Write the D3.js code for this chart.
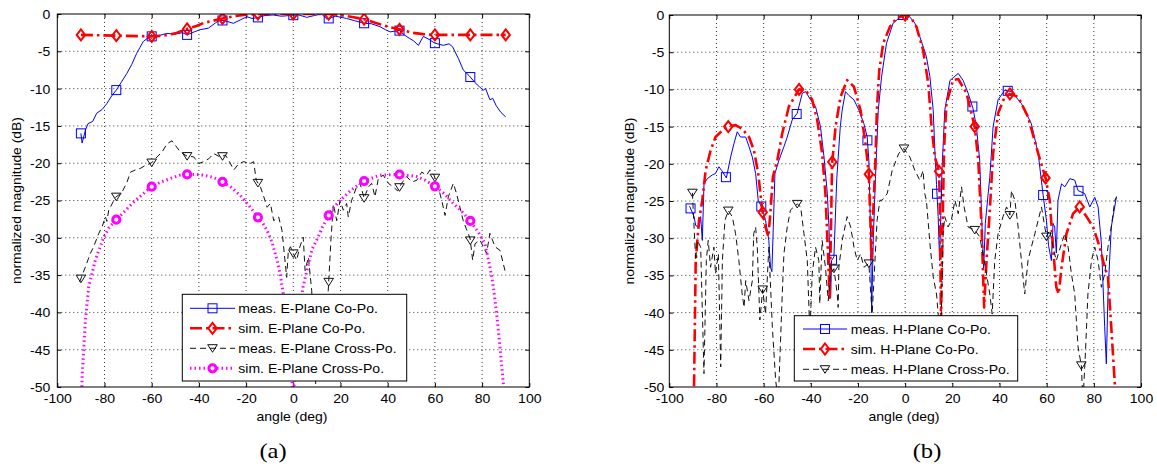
<!DOCTYPE html>
<html>
<head>
<meta charset="utf-8">
<script src="https://cdn.jsdelivr.net/npm/d3@7"></script>
<style>
  body { margin: 0; background: #fff; }
  text { font-family: "Liberation Sans", Arial, sans-serif; fill: #000; }
</style>
</head>
<body>
<div id="chart"></div>
<script>
// ---- data: [angle (deg), normalized magnitude (dB)] ----

// (a) E-plane
let measECo = [[-90,-16],[-89.5,-17.3],[-88,-15.5],[-87,-14.7],[-85,-14.4],[-83.3,-13.3],[-81,-12.8],[-79,-12],[-77,-11],
  [-75,-10.2],[-73,-9.2],[-70.6,-8],[-68.5,-6.8],[-66.4,-5.3],[-65,-4.5],[-63.6,-3.7],[-62,-3.3],[-60,-3.0],[-57,-2.9],
  [-53.6,-2.6],[-50,-2.7],[-47,-2.5],[-45,-2.8],[-42,-2.4],[-39.5,-2.1],[-36,-1.9],[-33,-1.2],[-31,-0.8],[-28,-1.0],
  [-25.4,-1.25],[-22.5,-0.8],[-19.7,-0.36],[-17.5,-0.6],[-15.5,-0.5],[-12,-0.2],[-8.5,-0.13],[-5,-0.3],[-1.4,-0.2],
  [2,-0.1],[5.7,-0.45],[9,-0.2],[12,0],[14.2,-0.67],[18,-0.3],[22.6,-0.6],[26,-0.9],[30.1,-1.25],[33,-1.3],[36.7,-1.7],
  [39,-2.1],[41,-2.4],[44.9,-2.2],[47,-2.8],[49.4,-3.3],[51,-3.6],[53,-4.2],[55.1,-3.0],[57.5,-3.4],[59.9,-3.9],
  [63.6,-4.2],[66,-4.0],[67.5,-4.4],[70,-6],[72,-7.5],[74.6,-8.3],[77,-9.2],[79,-9.8],[80.5,-10.2],[81.5,-10],
  [83.3,-11.5],[84.5,-11.3],[86,-12.3],[88,-13.2],[90,-13.8]];

let simECo = [[-90,-2.8],[-75,-2.9],[-60,-3.0],[-55,-2.9],[-50,-2.6],[-45,-2.0],[-41,-1.6],[-38,-1.2],[-34,-0.9],
  [-30,-0.6],[-25,-0.3],[-20,-0.1],[-15,0],[-10,0],[-5,0],[0,0],[5,0],[10,0],[15,0],[20,-0.15],[25,-0.4],[30,-0.7],
  [35,-1.2],[40,-1.7],[45,-2.05],[50,-2.5],[55,-2.7],[60,-2.8],[75,-2.8],[90,-2.8]];

let measECross = [[-90.5,-35.9],[-88.1,-33.9],[-86,-32.1],[-84.6,-31.2],[-82.4,-29.4],[-81,-28.5],[-79.6,-27.2],
  [-79,-27.8],[-78.2,-26.3],[-75.4,-24.6],[-72.6,-23.9],[-70.4,-22.5],[-69,-21.2],[-66.9,-20.9],[-64.8,-20.7],
  [-62.7,-20.3],[-60.1,-19.96],[-57.7,-19.15],[-55.6,-18.5],[-53.5,-17.4],[-51.4,-17],[-50,-17.6],[-47.8,-18.5],
  [-45,-19.06],[-42.2,-19.15],[-40.1,-20.05],[-38,-19.8],[-35.8,-19.4],[-33.7,-18.7],[-30.9,-19.2],[-28.8,-18.9],
  [-27.4,-19.6],[-25.2,-20.9],[-23.1,-20.05],[-21,-19.8],[-18.2,-20.05],[-16.8,-19.8],[-15.7,-22.3],[-13.9,-23.2],
  [-12.5,-24.5],[-11.1,-25.9],[-9.7,-25.4],[-8.3,-27.7],[-6.2,-27.2],[-4.8,-29],[-4.1,-31.2],[-2.8,-35.3],
  [-2.1,-31.7],[-1.2,-31.2],[0,-32.1],[1.4,-33],[2.8,-31.2],[4.2,-29.9],[5,-34.4],[6.4,-32.6],[7.8,-37.1],[8.5,-42],
  [9.5,-49.6],[10.6,-49.1],[11.3,-45],[12.7,-42],[14.8,-37.1],[16,-30],[17,-25.5],[18.4,-27.7],[19.8,-25],
  [21.2,-26.3],[22.6,-25.4],[23.3,-27.2],[24.7,-25],[26.8,-23.2],[28.3,-22.7],[30,-24.7],[31.8,-23.2],[33.2,-22.7],
  [34.6,-24.5],[36,-22.1],[38.1,-21.6],[40.3,-22.7],[42.4,-23.2],[44.2,-23.7],[45.9,-22.7],[48,-21.8],[50.2,-22.5],
  [52.3,-22.3],[54.4,-21.2],[56.5,-21.6],[57.9,-20.9],[59.6,-21.6],[61.4,-23.2],[62.9,-25],[64.3,-27],[65.7,-24.5],
  [67.8,-22.7],[69.2,-24.1],[70.6,-25.9],[72,-27.7],[74.9,-30.1],[76,-33],[77,-30.8],[79.1,-30.3],[81.9,-32.1],
  [83.3,-29.4],[85.5,-31.2],[87.6,-31.7],[89.7,-34.4]];

let simECross = [[-90,-56],[-89.5,-48.7],[-88.1,-41.1],[-86.7,-36.6],[-83.9,-33],[-80.3,-29.9],[-78,-28.6],
  [-75.4,-27.7],[-71,-26.3],[-67.6,-25.2],[-64,-24.2],[-60.3,-23.2],[-56,-22.5],[-52.1,-22.06],[-48,-21.6],
  [-45,-21.5],[-41.5,-21.5],[-38,-21.6],[-34,-21.9],[-30.5,-22.4],[-26.5,-23.2],[-22.5,-24.3],[-19,-25.6],
  [-15.4,-27.1],[-13,-28],[-11.1,-29],[-9,-30.6],[-6.9,-33],[-5.6,-34.8],[-4.1,-37.8],[-2.8,-41],[-1.4,-45.1],
  [0,-52],[1.4,-42.9],[2.8,-39.5],[4.2,-36.5],[6.4,-33.5],[8,-31.5],[9.9,-30.3],[12.3,-28.6],[14.8,-27.1],[17,-26],
  [19.8,-25],[24.5,-23.6],[30,-22.4],[36.7,-21.6],[44.5,-21.5],[48,-21.6],[52.3,-21.8],[56,-22.3],[60,-23.1],
  [64,-24.1],[67.8,-25.4],[71.5,-26.5],[74.9,-27.7],[78.5,-29.3],[81.2,-30.8],[83.3,-33.9],[84.5,-36],[85.5,-38.4],
  [86.6,-41.5],[87.6,-44.7],[89,-49.6],[90,-56]];

// (b) H-plane
let measHCo = [[-91.4,-25.7],[-89.5,-27.1],[-88.8,-28.3],[-87.4,-28.5],[-86.7,-27.1],[-86,-30.3],[-85.3,-22.7],
  [-83.9,-22],[-81.8,-21.5],[-80.4,-21.3],[-79,-20.4],[-77.8,-20.9],[-75.8,-21.9],[-74,-19.1],[-72.6,-17.3],
  [-71.2,-15.7],[-69.8,-16.4],[-67.6,-16.4],[-66.2,-17.7],[-64.8,-19.1],[-63.4,-21.3],[-62.3,-24.9],[-60.6,-26],
  [-59.2,-27.6],[-57.8,-30.3],[-57.1,-33.9],[-56.5,-34.5],[-55.2,-21.3],[-53.5,-19.5],[-51.4,-17.7],[-50,-16.4],
  [-47.9,-14.1],[-45.75,-13.2],[-43.6,-10.5],[-42.2,-10.3],[-40.1,-11.4],[-38,-12.3],[-35.9,-15],[-34.4,-19.1],
  [-33,-24],[-32.3,-28.5],[-31.6,-38],[-31.2,-33],[-30.2,-32.5],[-29,-22],[-27.5,-15],[-26.7,-12.8],[-25.3,-10.3],
  [-23.9,-10.8],[-21.7,-11.4],[-19.6,-12.8],[-17.5,-14.6],[-16.1,-16.4],[-15.4,-19.5],[-14.7,-28.5],[-14.2,-40],
  [-13.5,-30],[-12.6,-22],[-11.4,-12.8],[-10,-8.3],[-7.9,-3.8],[-5.1,-1.1],[-1.1,0],[1.3,0],[4.1,-1.1],[6.2,-2.9],
  [9,-5.6],[10.5,-8.3],[11.9,-12.8],[12.6,-18.2],[13.3,-22.8],[14,-27.1],[14.6,-33],[15.1,-27],[15.6,-20.9],
  [16.8,-12.8],[19,-8.8],[22.5,-7.85],[24.6,-8.8],[26.7,-10.5],[28.8,-12.6],[30.2,-15],[31.6,-19.5],[32.6,-28.5],
  [33.3,-34],[34,-28],[35.2,-24],[35.9,-21.8],[37.3,-15],[39.4,-11.4],[42.2,-10.1],[45.1,-10.3],[49.3,-11.9],
  [53.5,-14.6],[56.4,-18.6],[58.5,-24.2],[59.9,-27.6],[60.8,-31],[62,-33],[62.7,-28],[63.4,-28.5],[64.1,-32],
  [64.8,-24.9],[66.3,-22.7],[67.7,-23.1],[69.8,-22],[71.9,-22.2],[73.3,-23.6],[76.1,-24],[78.3,-25.8],[80.4,-24.5],
  [81.8,-25.8],[83.2,-30.7],[84.6,-41.9],[85.3,-46.9],[86,-37.5],[87.4,-28.5],[89.6,-24.4]];

let simHCo = [[-90,-62],[-89.5,-49.6],[-88.8,-33],[-87.4,-27.6],[-86,-24.9],[-84.6,-20.9],[-82.5,-18.2],
  [-80.4,-16.4],[-77.5,-15.5],[-75,-15],[-71.9,-14.8],[-69.1,-15.3],[-66.2,-16.4],[-64.1,-18.2],[-62.3,-21.3],
  [-60.6,-26.2],[-59.2,-28.5],[-58,-29.8],[-57.05,-26.2],[-56.1,-21.8],[-54.2,-19.5],[-52.1,-15.9],[-49.3,-12.3],
  [-45,-10],[-42.2,-10.1],[-39.4,-11.4],[-37.3,-14.1],[-35.2,-18.6],[-33.8,-24],[-32.6,-33],[-32,-38],[-31.4,-28],
  [-31,-20.1],[-29.5,-15],[-27.4,-11],[-24.6,-8.75],[-21.7,-9.65],[-18.9,-12.8],[-16.8,-17.3],[-15.4,-21.4],
  [-14.7,-28],[-14.3,-33],[-13.6,-27],[-12.6,-19.5],[-12,-12.8],[-11,-7.5],[-9.3,-3.8],[-6.5,-1.6],[-3.7,-0.45],
  [0,0],[2.7,-0.45],[4.8,-1.6],[7.6,-4.7],[9.8,-9.2],[11.2,-15],[12.6,-19.1],[14.4,-21],[14.7,-26],[15.2,-41],
  [15.8,-30],[16.5,-18],[17.5,-11.9],[20.3,-8.75],[22.5,-8.6],[26,-10.5],[29.5,-15],[31,-19.5],[32.4,-28.5],
  [33.5,-39.3],[34.5,-33],[35.9,-26.2],[37.3,-18.6],[39.4,-13.2],[42.2,-11],[44.4,-10.6],[47.9,-11],[52.1,-13.7],
  [56.4,-18.6],[59.6,-22],[61.3,-24.9],[62.7,-31.2],[64.1,-36.6],[65.1,-37.5],[66.3,-33.9],[68.4,-29.4],
  [71.2,-26.7],[74,-25.8],[76.9,-27.1],[79.7,-28.5],[82.5,-31.2],[84.6,-33.9],[86,-35.2],[87.4,-42],[88.9,-49.6],
  [90,-58]];

let measHCross = [[-90.2,-23.9],[-89.5,-28.5],[-88.8,-33],[-88.1,-30.3],[-86.7,-31.2],[-85.3,-48.2],[-84.3,-33],
  [-83.5,-30.3],[-82.5,-33.9],[-81.1,-31.2],[-80.4,-34.8],[-79.2,-32.1],[-78.2,-47.3],[-77.5,-33],[-76.4,-27.6],
  [-75,-26.3],[-73.3,-27.1],[-71.9,-29.4],[-70.5,-33],[-69.1,-37.5],[-68.3,-39.3],[-67.6,-35.7],[-66.2,-38.4],
  [-64.8,-35.7],[-64.2,-29.4],[-63.4,-28.5],[-62.7,-31.2],[-61.6,-41],[-60.4,-36.9],[-59.2,-40.2],[-57.8,-31.2],
  [-56.3,-42],[-54.9,-49.1],[-53.8,-52],[-52.1,-37.5],[-51.4,-32.1],[-50,-28.5],[-48.6,-26.2],[-45.75,-25.4],
  [-44.3,-25.8],[-42.9,-29.4],[-41.5,-33],[-40.4,-42.8],[-39.4,-34.8],[-38,-31.2],[-36.6,-33],[-36.2,-38.8],
  [-35.2,-30.3],[-33.8,-33.9],[-32.6,-38.4],[-31.6,-34.8],[-30.2,-34.1],[-28.8,-37.5],[-28.4,-39.3],[-28.1,-33.9],
  [-26.7,-30.3],[-24.6,-27.1],[-23.1,-28.5],[-21.7,-31.2],[-20.3,-33],[-18.9,-32.1],[-17.5,-33.9],[-15.4,-33.4],
  [-14,-40.2],[-11.9,-27.6],[-10.7,-24.9],[-9.8,-24.9],[-7.6,-24],[-5.5,-20.9],[-2.7,-18.6],[-0.5,-17.95],[2,-19.1],
  [4.1,-20.9],[6.2,-22.2],[7.6,-20.9],[8.3,-24],[9,-24.9],[10.5,-30.7],[11.9,-35.2],[13.3,-37.5],[14,-40.2],
  [15,-45],[16.1,-29.4],[16.8,-27.1],[18.2,-28.5],[19.6,-27.6],[21.1,-24.9],[22.5,-26.7],[23.9,-23.1],[25,-25.8],
  [26.7,-28.5],[29.5,-28.9],[31.6,-29.8],[33,-32.1],[34.5,-34.8],[35.9,-37.5],[36.9,-40.2],[38,-33],[39.4,-29.4],
  [41.5,-27.1],[43,-25.8],[44.4,-26.9],[45.1,-23.6],[46.5,-24.9],[47.9,-28.5],[49.3,-33],[50.7,-37.5],[52.1,-33],
  [53.5,-31.2],[55,-29.4],[56.4,-27.6],[57.8,-25.8],[59.9,-29.8],[61.3,-28.9],[62.7,-31.2],[64.1,-33],[66.3,-30.7],
  [67.7,-29.4],[69.1,-31.2],[70.5,-34.8],[71.9,-37.5],[73.3,-44.6],[74.7,-47.1],[75.4,-52],[76.5,-45],[77.5,-37.5],
  [79,-33],[80.4,-31.2],[81.8,-33],[83.2,-36.6],[84.6,-34.8],[86,-31.2],[87.4,-28.5],[88.9,-24.9],[89.6,-24.5]];

// angles where the markers sit on each curve
let markMeasECo = [-90,-75,-60,-45,-30,-15,0,15,30,45,60,75];
let markSimECo = [-90,-75,-60,-45,-30,-15,0,15,30,45,60,75,90];
let markMeasECross = [-90,-75,-60,-45,-30,-15,0,15,30,45,60,75];
let markSimECross = [-75,-60,-45,-30,-15,15,30,45,60,75];
let markMeasHCo = [-91,-76,-61,-46,-31,-16,-1,13.5,28.5,43.5,58.5,73.5];
let markSimHCo = [-75,-60.4,-45,-30.9,-15.4,0,14.4,29.5,44.4,59.5,74];
let markMeasHCross = [-90.2,-75,-60.4,-45.75,-30.2,-15.4,-0.5,29.5,44.4,59.9,74.7];

let xTicks = [-100,-80,-60,-40,-20,0,20,40,60,80,100];
let yTicks = [-50,-45,-40,-35,-30,-25,-20,-15,-10,-5,0];

let namesA = ['meas. E-Plane Co-Po.','sim. E-Plane Co-Po.','meas. E-Plane Cross-Po.','sim. E-Plane Cross-Po.'];
let namesB = ['meas. H-Plane Co-Po.','sim. H-Plane Co-Po.','meas. H-Plane Cross-Po.'];

// ---- setup ----
let svgWidth = 1157;
let svgHeight = 471;
let sx = 1.17; // the figure is a bit stretched sideways

let svg = d3.select('#chart')
  .append('svg')
  .attr('width', svgWidth)
  .attr('height', svgHeight);

let styles = {
  measCo: {color: '#0000ff', width: 1, dash: null, marker: 'square'},
  simCo: {color: '#ff0000', width: 2.6, dash: '12,4,2.5,4', marker: 'diamond'},
  measX: {color: '#111', width: 1, dash: '6,4', marker: 'triangle'},
  simX: {color: '#ff00ff', width: 3, dash: '1.5,3', marker: 'circle'}
};

function valueAt(data, a) {
  let i = d3.bisector(d => d[0]).left(data, a);
  if (i <= 0) return data[0][1];
  if (i >= data.length) return data[data.length - 1][1];
  let p0 = data[i - 1], p1 = data[i];
  return p0[1] + (p1[1] - p0[1]) * (a - p0[0]) / (p1[0] - p0[0]);
}

function addMarker(g, type, cx, cy, color) {
  if (type === 'square') {
    g.append('rect').attr('x', cx - 4.5).attr('y', cy - 4.5).attr('width', 9).attr('height', 9)
      .attr('fill', 'none').attr('stroke', color).attr('stroke-width', 1);
  } else if (type === 'diamond') {
    g.append('path').attr('d', `M${cx},${cy - 5.5}L${cx + 4.2},${cy}L${cx},${cy + 5.5}L${cx - 4.2},${cy}Z`)
      .attr('fill', 'none').attr('stroke', color).attr('stroke-width', 2);
  } else if (type === 'triangle') {
    g.append('path').attr('d', `M${cx - 4.8},${cy - 3.6}L${cx + 4.8},${cy - 3.6}L${cx},${cy + 4}Z`)
      .attr('fill', 'none').attr('stroke', color).attr('stroke-width', 1);
  } else {
    g.append('circle').attr('cx', cx).attr('cy', cy).attr('r', 3.6)
      .attr('fill', '#fff').attr('stroke', color).attr('stroke-width', 3);
  }
}

function styled(sel, st) {
  sel.attr('fill', 'none')
    .attr('stroke', st.color)
    .attr('stroke-width', st.width)
    .attr('stroke-dasharray', st.dash);
  return sel;
}

function drawPanel(p) {
  let x = d3.scaleLinear().domain([-100, 100]).range([p.left, p.right]);
  let y = d3.scaleLinear().domain([-50, 0]).range([p.bottom, p.top]);
  let g = svg.append('g');

  g.append('rect').attr('x', p.left).attr('y', p.top)
    .attr('width', p.right - p.left).attr('height', p.bottom - p.top).attr('fill', '#fff');

  // grid
  g.selectAll('.vgrid').data(xTicks.slice(1, -1)).enter().append('line')
    .attr('x1', d => x(d)).attr('x2', d => x(d)).attr('y1', p.top).attr('y2', p.bottom)
    .attr('stroke', '#222').attr('stroke-width', 0.9).attr('stroke-dasharray', '1,3');
  g.selectAll('.hgrid').data(yTicks.slice(1, -1)).enter().append('line')
    .attr('x1', p.left).attr('x2', p.right).attr('y1', d => y(d)).attr('y2', d => y(d))
    .attr('stroke', '#222').attr('stroke-width', 0.9).attr('stroke-dasharray', '1,3');

  // axes
  let bottomAxis = d3.axisBottom(x).tickValues(xTicks).tickSize(-4).tickSizeOuter(0)
    .tickPadding(7.5).tickFormat(d => String(d));
  let leftAxis = d3.axisLeft(y).tickValues(yTicks).tickSize(-4).tickSizeOuter(0)
    .tickFormat(d => String(d));
  let xAx = g.append('g').attr('transform', `translate(0,${p.bottom})`).call(bottomAxis);
  let yAx = g.append('g').attr('transform', `translate(${p.left},0)`).call(leftAxis);
  g.append('g').attr('transform', `translate(0,${p.top})`)
    .call(d3.axisTop(x).tickValues(xTicks).tickSize(-4).tickSizeOuter(0).tickFormat(''));
  g.append('g').attr('transform', `translate(${p.right},0)`)
    .call(d3.axisRight(y).tickValues(yTicks).tickSize(-4).tickSizeOuter(0).tickFormat(''));
  g.selectAll('.domain').remove();
  g.selectAll('.tick line').attr('stroke', '#000');
  [xAx, yAx].forEach(a => a.attr('font-size', 12).attr('font-family', '"Liberation Sans", Arial, sans-serif'));
  xAx.selectAll('text').attr('transform', `scale(${sx},1)`);
  yAx.selectAll('text').attr('x', 0).attr('dy', '0.37em')
    .attr('transform', `translate(${-p.labelGap},0) scale(${sx},1)`);

  // curves
  let clipId = 'clip-' + p.id;
  svg.append('clipPath').attr('id', clipId).append('rect')
    .attr('x', p.left).attr('y', p.top).attr('width', p.right - p.left).attr('height', p.bottom - p.top);
  let plot = g.append('g').attr('clip-path', `url(#${clipId})`);
  let line = d3.line().x(d => x(d[0])).y(d => y(d[1]));
  p.series.forEach(s => {
    styled(plot.append('path').datum(s.data).attr('d', line), s.style).attr('stroke-linejoin', 'round');
    s.marks.forEach(a => addMarker(plot, s.style.marker, x(a), y(valueAt(s.data, a)), s.style.color));
  });

  // frame
  g.append('rect').attr('x', p.left).attr('y', p.top)
    .attr('width', p.right - p.left).attr('height', p.bottom - p.top)
    .attr('fill', 'none').attr('stroke', '#000').attr('stroke-width', 1);

  // labels
  g.append('text').attr('text-anchor', 'middle').attr('font-size', 12)
    .attr('transform', `translate(${p.xLabelX},${p.xLabelY}) scale(${sx},1)`).text('angle (deg)');
  g.append('text').attr('text-anchor', 'middle').attr('font-size', 13)
    .attr('transform', `translate(${p.yLabelX},${(p.top + p.bottom) / 2}) rotate(-90)`)
    .attr('textLength', 167).attr('lengthAdjust', 'spacingAndGlyphs')
    .text('normalized magnitude (dB)');
  g.append('text').attr('text-anchor', 'middle').attr('font-size', 21)
    .style('font-family', '"Liberation Serif", "Times New Roman", serif')
    .attr('transform', `translate(${p.capX},458) scale(${sx},1)`).text(p.caption);

  // legend
  let L = p.legend;
  let lg = g.append('g');
  lg.append('rect').attr('x', L.x0).attr('y', L.y0).attr('width', L.x1 - L.x0).attr('height', L.y1 - L.y0)
    .attr('fill', '#fff').attr('stroke', '#000').attr('stroke-width', 1);
  p.series.forEach((s, i) => {
    let ry = L.rows[i];
    styled(lg.append('line').attr('x1', L.lx0).attr('x2', L.lx1).attr('y1', ry).attr('y2', ry), s.style);
    addMarker(lg, s.style.marker, (L.lx0 + L.lx1) / 2, ry, s.style.color);
    lg.append('text').attr('font-size', 12)
      .attr('transform', `translate(${L.tx},${ry + 4.5}) scale(${sx},1)`).text(p.names[i]);
  });
}

let panelA = {
  id: 'a', left: 57.3, right: 529.3, top: 14, bottom: 387, labelGap: 7,
  xLabelX: 292, xLabelY: 421, yLabelX: 21, capX: 273, caption: '(a)', names: namesA,
  legend: {x0: 182.3, x1: 406.7, y0: 294.3, y1: 381, rows: [308.3, 328.3, 348.3, 368.3], lx0: 190, lx1: 235, tx: 238.3},
  series: [
    {data: measECo, marks: markMeasECo, style: styles.measCo},
    {data: simECo, marks: markSimECo, style: styles.simCo},
    {data: measECross, marks: markMeasECross, style: styles.measX},
    {data: simECross, marks: markSimECross, style: styles.simX}
  ]
};

let panelB = {
  id: 'b', left: 669.3, right: 1141, top: 15, bottom: 387, labelGap: 5,
  xLabelX: 904, xLabelY: 421, yLabelX: 634, capX: 927, caption: '(b)', names: namesB,
  legend: {x0: 794.3, x1: 1017.7, y0: 315.7, y1: 381, rows: [329, 349, 369.3], lx0: 803, lx1: 847, tx: 850.7},
  series: [
    {data: measHCo, marks: markMeasHCo, style: styles.measCo},
    {data: simHCo, marks: markSimHCo, style: styles.simCo},
    {data: measHCross, marks: markMeasHCross, style: styles.measX}
  ]
};

drawPanel(panelA);
drawPanel(panelB);
</script>
</body>
</html>
